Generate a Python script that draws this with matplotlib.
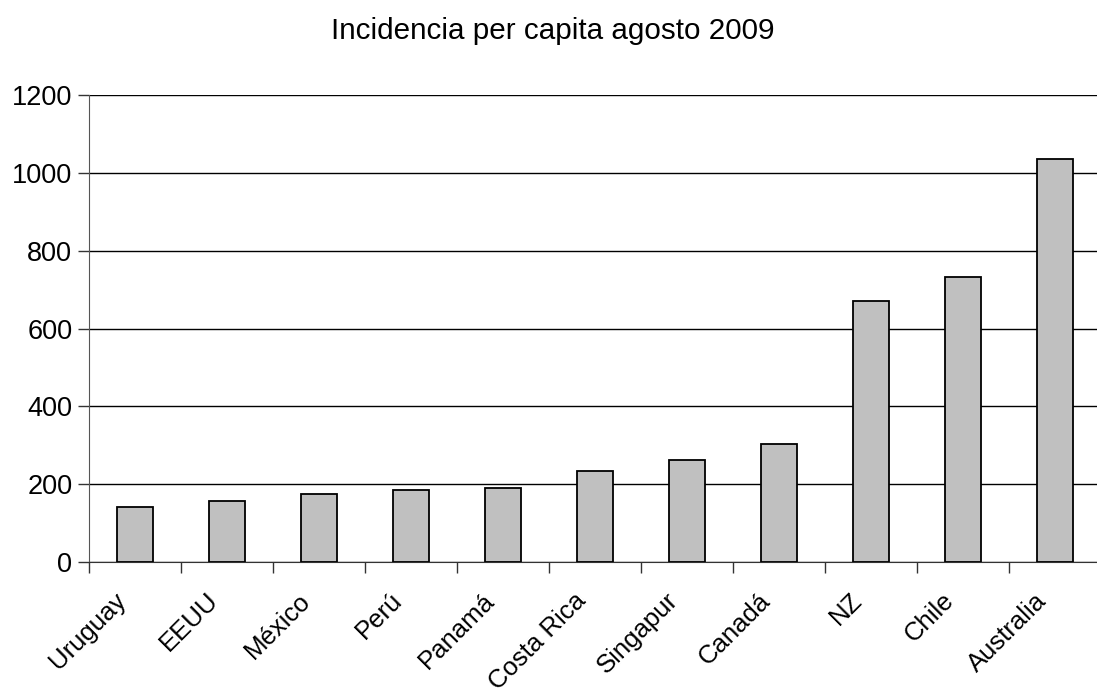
import matplotlib
matplotlib.use('Agg')
import matplotlib.pyplot as plt
import matplotlib.transforms as mtransforms
import numpy as np

plt.rcParams['font.family'] = ['Liberation Sans', 'DejaVu Sans']

paises = ['Uruguay', 'EEUU', 'México', 'Perú', 'Panamá', 'Costa Rica',
          'Singapur', 'Canadá', 'NZ', 'Chile', 'Australia']
incidencia = [142, 156, 176, 184, 190, 233, 262, 302, 670, 733, 1036]
yticks = [0, 200, 400, 600, 800, 1000, 1200]

fig = plt.figure(figsize=(10.97, 6.98), dpi=100)
ax = fig.add_axes([0.0811, 0.1948, 0.9225, 0.6691])

x = np.arange(len(paises))
ax.bar(x, incidencia, width=0.4, color='#c0c0c0', edgecolor='black', linewidth=1.3, zorder=3)

ax.set_xlim(-0.5, len(paises) - 0.5)
ax.set_ylim(0, 1200)
ax.set_yticks(yticks)
ax.yaxis.grid(True, color='black', linewidth=1.0, zorder=0)

# ticks between categories, labels at category centers
ax.set_xticks(np.arange(len(paises) + 1) - 0.5)
ax.set_xticklabels([])
ax.set_xticks(x, minor=True)
ax.set_xticklabels(paises, minor=True, rotation=45, ha='right',
                   rotation_mode='anchor', fontsize=18.5)
ax.tick_params(axis='x', which='major', direction='out', length=8, width=1, color='#333333')
ax.tick_params(axis='x', which='minor', length=0, pad=14)
ax.tick_params(axis='y', direction='out', length=8, width=1, labelsize=19.5, pad=4, color='#333333')

# nudge rotated labels left/down
shift = mtransforms.ScaledTranslation(-0.21, -0.07, fig.dpi_scale_trans)
for lbl in ax.get_xticklabels(minor=True):
    lbl.set_transform(lbl.get_transform() + shift)

for side in ['top', 'right']:
    ax.spines[side].set_visible(False)
ax.spines['left'].set_color('#555555')
ax.spines['bottom'].set_color('#333333')

fig.text(0.5035, 0.955, 'Incidencia per capita agosto 2009', ha='center', va='center', fontsize=21.3)

plt.savefig('out.png', dpi=100)
plt.close()
